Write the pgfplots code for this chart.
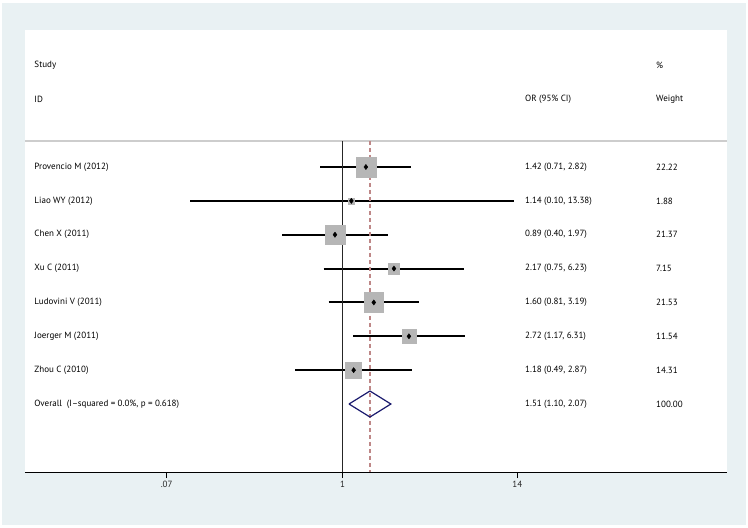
\documentclass[border=0pt]{standalone}
\usepackage{pgfplots}
\pgfplotsset{compat=1.18}
\usepackage{pgfplotstable}
\usepackage{fontspec}
\setmainfont{PT Sans}
\definecolor{bgc}{RGB}{233,241,243}
\definecolor{boxg}{RGB}{182,182,182}
\definecolor{refred}{RGB}{190,135,135}
\definecolor{navyd}{RGB}{26,26,110}
\definecolor{hdrline}{RGB}{205,205,205}

\pgfplotstableread{
y or lo hi w
1 1.42 0.71 2.82 22.22
2 1.14 0.10 13.38 1.88
3 0.89 0.40 1.97 21.37
4 2.17 0.75 6.23 7.15
5 1.60 0.81 3.19 21.53
6 2.72 1.17 6.31 11.54
7 1.18 0.49 2.87 14.31
}\studies

\begin{document}
\begin{tikzpicture}[x=1pt,y=1pt]
\fill[white] (0,0) rectangle (748,528);
\fill[bgc] (2,3) rectangle (746,525);
\fill[white] (25,56) rectangle (727,498);
\begin{axis}[
  at={(25pt,56pt)}, anchor=south west,
  scale only axis, width=702pt, height=442pt,
  xmode=log, xmin=0.00824, xmax=332,
  ymin=-3.046, ymax=10.008, y dir=reverse,
  axis x line*=bottom, hide y axis,
  axis line style={black, line width=0.9pt},
  xtick={0.07,1,14}, xticklabels={.07,1,14},
  minor xtick={},
  tick align=outside, major tick length=6pt,
  tick style={black, line width=0.8pt},
  xticklabel style={font=\fontsize{9}{10}\selectfont, text=black!85},
  /pgf/number format/assume math mode=true,
  clip=false,
  font=\fontsize{9}{10}\selectfont,
]
% header separator
\addplot[hdrline, line width=1.5pt] coordinates {(0.00824,0.232) (332,0.232)};
% boxes
\addplot[boxg, scatter, only marks, mark=square*,
  mark options={draw=none, fill=boxg},
  scatter/use mapped color={draw=none, fill=boxg},
  visualization depends on={2.125*sqrt(\thisrow{w}) \as \msz},
  scatter/@pre marker code/.append style={/tikz/mark size=\msz}]
  table[x=or, y=y] \studies;
% confidence intervals
\addplot[black, line width=2pt] coordinates {(0.71,1) (2.82,1)};
\addplot[black, line width=2pt] coordinates {(0.10,2) (13.38,2)};
\addplot[black, line width=2pt] coordinates {(0.40,3) (1.97,3)};
\addplot[black, line width=2pt] coordinates {(0.75,4) (6.23,4)};
\addplot[black, line width=2pt] coordinates {(0.81,5) (3.19,5)};
\addplot[black, line width=2pt] coordinates {(1.17,6) (6.31,6)};
\addplot[black, line width=2pt] coordinates {(0.49,7) (2.87,7)};
% point estimates
\addplot[only marks, mark=diamond*, mark size=2.6pt, black] table[x=or, y=y] \studies;
% null line
\addplot[black!85, line width=0.8pt] coordinates {(1,0.232) (1,10.008)};
% pooled line
\addplot[refred, line width=1.2pt, dash pattern=on 4pt off 3pt] coordinates {(1.51,0.232) (1.51,10.008)};
% overall diamond
\addplot[navyd, line width=1.2pt] coordinates {(1.10,8) (1.51,7.616) (2.07,8) (1.51,8.384) (1.10,8)};
% text
\node[anchor=west, inner sep=0] at (axis cs:0.00948,-2.012) {Study};
\node[anchor=west, inner sep=0] at (axis cs:0.00948,-1.008) {ID};
\node[anchor=west, inner sep=0] at (axis cs:15.70,-1.008) {OR (95\% CI)};
\node[anchor=west, inner sep=0] at (axis cs:113.6,-2.012) {\%};
\node[anchor=west, inner sep=0] at (axis cs:113.6,-1.008) {Weight};
\node[anchor=west, inner sep=0] at (axis cs:0.00948,1) {Provencio M (2012)};
\node[anchor=west, inner sep=0] at (axis cs:0.00948,2) {Liao WY (2012)};
\node[anchor=west, inner sep=0] at (axis cs:0.00948,3) {Chen X (2011)};
\node[anchor=west, inner sep=0] at (axis cs:0.00948,4) {Xu C (2011)};
\node[anchor=west, inner sep=0] at (axis cs:0.00948,5) {Ludovini V (2011)};
\node[anchor=west, inner sep=0] at (axis cs:0.00948,6) {Joerger M (2011)};
\node[anchor=west, inner sep=0] at (axis cs:0.00948,7) {Zhou C (2010)};
\node[anchor=west, inner sep=0] at (axis cs:0.00948,8) {Overall\ \ (I--squared = 0.0\%, p = 0.618)};
\node[anchor=west, inner sep=0] at (axis cs:15.70,1) {1.42 (0.71, 2.82)};
\node[anchor=west, inner sep=0] at (axis cs:15.70,2) {1.14 (0.10, 13.38)};
\node[anchor=west, inner sep=0] at (axis cs:15.70,3) {0.89 (0.40, 1.97)};
\node[anchor=west, inner sep=0] at (axis cs:15.70,4) {2.17 (0.75, 6.23)};
\node[anchor=west, inner sep=0] at (axis cs:15.70,5) {1.60 (0.81, 3.19)};
\node[anchor=west, inner sep=0] at (axis cs:15.70,6) {2.72 (1.17, 6.31)};
\node[anchor=west, inner sep=0] at (axis cs:15.70,7) {1.18 (0.49, 2.87)};
\node[anchor=west, inner sep=0] at (axis cs:15.70,8) {1.51 (1.10, 2.07)};
\node[anchor=west, inner sep=0] at (axis cs:113.6,1) {22.22};
\node[anchor=west, inner sep=0] at (axis cs:113.6,2) {1.88};
\node[anchor=west, inner sep=0] at (axis cs:113.6,3) {21.37};
\node[anchor=west, inner sep=0] at (axis cs:113.6,4) {7.15};
\node[anchor=west, inner sep=0] at (axis cs:113.6,5) {21.53};
\node[anchor=west, inner sep=0] at (axis cs:113.6,6) {11.54};
\node[anchor=west, inner sep=0] at (axis cs:113.6,7) {14.31};
\node[anchor=west, inner sep=0] at (axis cs:113.6,8) {100.00};
\end{axis}
\end{tikzpicture}
\end{document}
